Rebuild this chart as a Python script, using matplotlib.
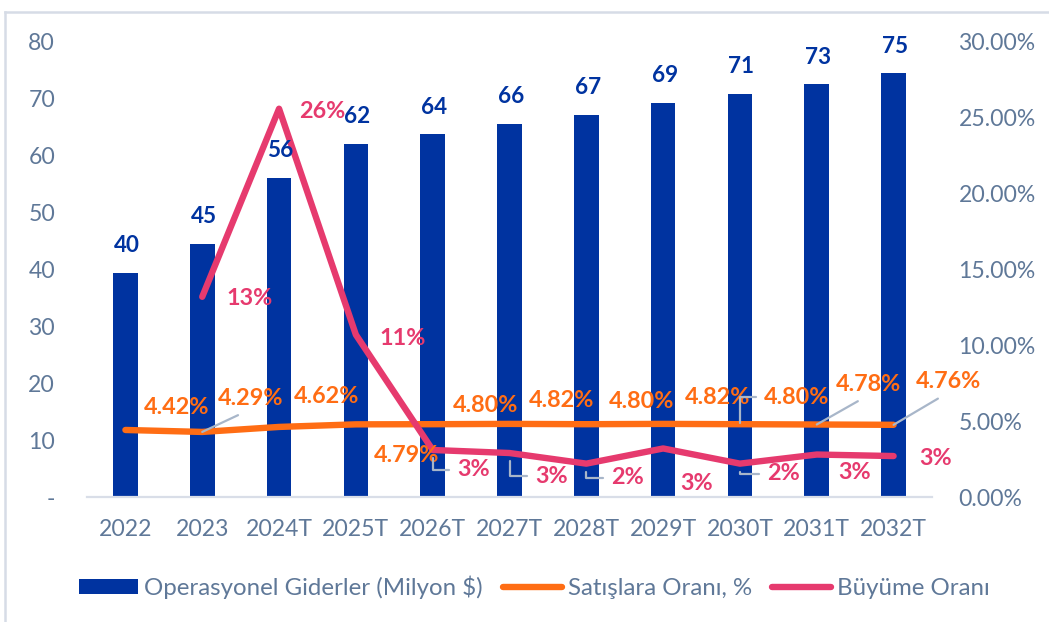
import matplotlib
matplotlib.use('Agg')
import matplotlib.pyplot as plt
from matplotlib.ticker import FixedLocator, FuncFormatter
from matplotlib.lines import Line2D
from matplotlib.patches import Patch

plt.rcParams['font.family'] = ['Lato', 'DejaVu Sans']

# ---------------- data ----------------
categories = ['2022', '2023', '2024T', '2025T', '2026T', '2027T',
              '2028T', '2029T', '2030T', '2031T', '2032T']
opex = [39.4, 44.5, 56.1, 62.1, 63.8, 65.6, 67.2, 69.3, 70.9, 72.6, 74.5]
opex_labels = ['40', '45', '56', '62', '64', '66', '67', '69', '71', '73', '75']
sales_ratio = [4.42, 4.29, 4.62, 4.79, 4.80, 4.82, 4.80, 4.82, 4.80, 4.78, 4.76]   # %
growth = [None, 13.2, 25.6, 10.7, 3.1, 2.9, 2.2, 3.2, 2.2, 2.8, 2.7]            # %
growth_labels = ['', '13%', '26%', '11%', '3%', '3%', '2%', '3%', '2%', '3%', '3%']
left_ticks = [0, 10, 20, 30, 40, 50, 60, 70, 80]
right_ticks = [0, 5, 10, 15, 20, 25, 30]
legend_labels = ['Operasyonel Giderler (Milyon $)', 'Satışlara Oranı, %', 'Büyüme Oranı']

# ---------------- label placement (pixels) ----------------
sales_off = [(51, -22), (48, -33), (48, -30), (51, 31), (53, -19), (52, -23),
             (55, -23), (54, -26), (57, -27), (52, -40), (55, -43)]
sales_lead = [None, 'line', None, None, None, None, None, None, 'elbow', 'line', 'line']
growth_off = [None, (47, 2), (43, 3), (47, 4), (41, 20), (42, 23), (41, 14),
              (33, 35), (44, 10), (38, 18), (42, 2)]
growth_lead = [None, None, None, None, 'elbow', 'elbow', 'elbow', None, 'elbow', None, None]

# ---------------- style ----------------
DPI = 100
W, H = 1049, 622
bar_c = '#0033A0'
orange = '#FF6D14'
pink = '#E63A6E'
tick_c = '#5F7898'
leader_c = '#A8B6C9'
base_c = '#D9DEE8'
px2pt = 72.0 / DPI

fig = plt.figure(figsize=(W / DPI, H / DPI), dpi=DPI)
ax = fig.add_axes([87 / W, 1 - 497 / H, (932 - 87) / W, (497 - 42) / H])
ax2 = ax.twinx()

x = list(range(len(categories)))
ax.bar(x, opex, width=0.32, color=bar_c, zorder=2)
ax.set_xlim(-0.5, len(categories) - 0.5)
ax.set_ylim(0, 80)
ax.yaxis.set_major_locator(FixedLocator(left_ticks))
ax.yaxis.set_major_formatter(FuncFormatter(lambda v, p: '-' if v == 0 else f'{v:.0f}'))
ax.set_xticks(x)
ax.set_xticklabels(categories)

ax2.set_ylim(0, 30)
ax2.yaxis.set_major_locator(FixedLocator(right_ticks))
ax2.yaxis.set_major_formatter(FuncFormatter(lambda v, p: f'{v:.2f}%'))

for a in (ax, ax2):
    for s in a.spines.values():
        s.set_visible(False)
ax.spines['bottom'].set_visible(True)
ax.spines['bottom'].set_color(base_c)
ax.spines['bottom'].set_linewidth(1.6)

TICK_FS = 16.6
ax.tick_params(axis='x', length=0, pad=16, labelsize=TICK_FS, labelcolor=tick_c)
ax.tick_params(axis='y', length=0, pad=23, labelsize=TICK_FS, labelcolor=tick_c)
ax2.tick_params(axis='y', length=0, pad=19, labelsize=TICK_FS, labelcolor=tick_c)

# lines
ax2.plot(x, sales_ratio, color=orange, lw=4.6, solid_capstyle='round',
         solid_joinstyle='round', zorder=3)
gx = [i for i, v in zip(x, growth) if v is not None]
gy = [v for v in growth if v is not None]
ax2.plot(gx, gy, color=pink, lw=4.6, solid_capstyle='round',
         solid_joinstyle='round', zorder=4)

lab_font = dict(fontsize=16.8, fontweight='bold', ha='center', va='center')

# sales ratio labels
for i, v in enumerate(sales_ratio):
    dx, dy = sales_off[i]
    kw = {}
    if sales_lead[i] == 'line':
        kw['arrowprops'] = dict(arrowstyle='-', color=leader_c, lw=1.6,
                                connectionstyle='arc3,rad=0', relpos=(0.5, 0.0),
                                shrinkA=5, shrinkB=0)
    elif sales_lead[i] == 'elbow':
        kw['arrowprops'] = dict(arrowstyle='-', color=leader_c, lw=1.6,
                                connectionstyle='angle,angleA=0,angleB=90,rad=0',
                                shrinkA=4, shrinkB=1)
    ax2.annotate(f'{v:.2f}%', xy=(i, v), xytext=(dx * px2pt, -dy * px2pt),
                 textcoords='offset points', color=orange, zorder=6, **lab_font, **kw)

# growth labels
for i, v in enumerate(growth):
    if v is None:
        continue
    dx, dy = growth_off[i]
    kw = {}
    if growth_lead[i] == 'elbow':
        kw['arrowprops'] = dict(arrowstyle='-', color=leader_c, lw=1.6,
                                connectionstyle='angle,angleA=0,angleB=90,rad=0',
                                shrinkA=4, shrinkB=6)
    ax2.annotate(growth_labels[i], xy=(i, v), xytext=(dx * px2pt, -dy * px2pt),
                 textcoords='offset points', color=pink, zorder=6, **lab_font, **kw)

# bar value labels (drawn on top)
for i, v in enumerate(opex):
    ax2.annotate(opex_labels[i], xy=(i, v), xycoords=ax.transData,
                 xytext=(1.5 * px2pt, 27 * px2pt), textcoords='offset points',
                 color=bar_c, fontsize=16.2, fontweight='bold', ha='center',
                 va='center', zorder=7)

# legend
handles = [Patch(facecolor=bar_c, edgecolor='none'),
           Line2D([], [], color=orange, lw=4.6, solid_capstyle='round'),
           Line2D([], [], color=pink, lw=4.6, solid_capstyle='round')]
fig.legend(handles, legend_labels, loc='center', bbox_to_anchor=(534.5 / W, 1 - 587 / H),
           ncol=3, frameon=False, fontsize=17.3, handlelength=2.45, handleheight=0.6,
           handletextpad=0.25, columnspacing=0.85, labelcolor=tick_c)

# outer frame
fig.add_artist(Line2D([5 / W, 1], [1 - 12 / H, 1 - 12 / H], transform=fig.transFigure,
                      color='#D6DCE6', lw=1.8))
fig.add_artist(Line2D([5 / W, 5 / W], [0, 1 - 12 / H], transform=fig.transFigure,
                      color='#D6DCE6', lw=1.8))

fig.savefig('out.png', dpi=DPI)
